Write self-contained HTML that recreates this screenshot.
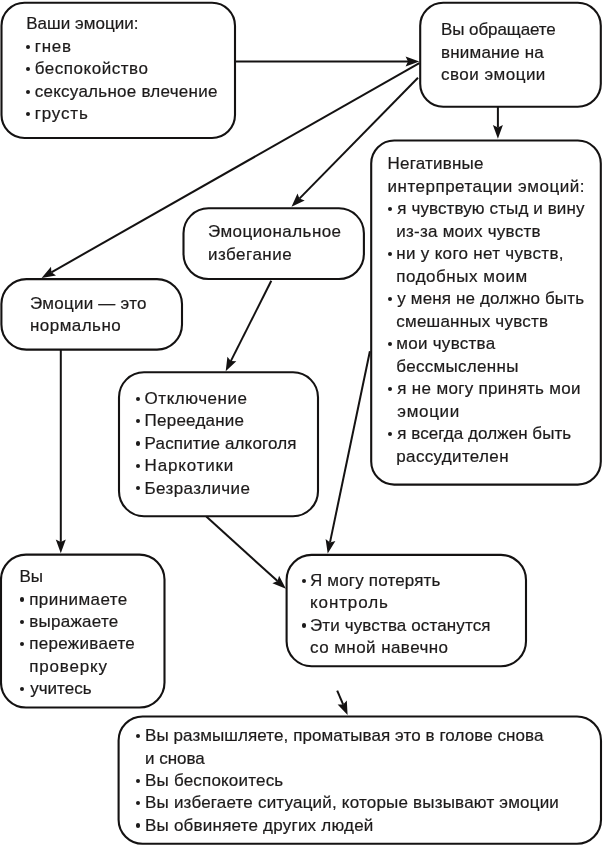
<!DOCTYPE html>
<html><head><meta charset="utf-8"><title>Emotions diagram</title><style>
html,body{margin:0;padding:0;background:#fff}
body{width:603px;height:846px;overflow:hidden;position:relative}
#w{position:absolute;left:0;top:0;width:603px;height:846px;will-change:transform}
.t{position:absolute;white-space:nowrap;font-family:"Liberation Sans",sans-serif;font-size:17.0px;line-height:22.5px;letter-spacing:0.2px;color:#1c1a1a;-webkit-text-stroke:0.2px #1c1a1a}
.d{position:absolute;width:4.2px;height:4.2px;border-radius:50%;background:#1c1a1a}
svg{position:absolute;left:0;top:0}
rect{fill:none;stroke:#141212;stroke-width:2.1}
line{stroke:#141212;stroke-width:2}
polygon{fill:#141212}
</style></head><body>
<div id="w">
<svg width="603" height="846" viewBox="0 0 603 846">
<rect x="1.5" y="2.7" width="233.5" height="135.3" rx="23" ry="23"/>
<rect x="420.2" y="2.8" width="180.6" height="104.0" rx="23" ry="23"/>
<rect x="371.2" y="140.5" width="229.6" height="344.1" rx="23" ry="23"/>
<rect x="183.5" y="208.3" width="180.4" height="70.7" rx="25" ry="25"/>
<rect x="1.4" y="279.1" width="180.6" height="70.5" rx="25" ry="25"/>
<rect x="119.0" y="372.3" width="199.0" height="143.9" rx="25" ry="25"/>
<rect x="1.0" y="554.6" width="163.5" height="152.9" rx="25" ry="25"/>
<rect x="286.6" y="554.9" width="239.4" height="111.3" rx="25" ry="25"/>
<rect x="118.6" y="716.5" width="482.4" height="127.3" rx="24" ry="24"/>
<line x1="235.0" y1="61.6" x2="408.0" y2="61.6"/>
<polygon points="419.3,61.6 405.6,66.6 408.0,61.6 405.6,56.6"/>
<line x1="497.9" y1="106.8" x2="497.9" y2="127.5"/>
<polygon points="497.9,138.8 492.9,125.1 497.9,127.5 502.9,125.1"/>
<line x1="419.3" y1="63.2" x2="51.4" y2="272.3"/>
<polygon points="41.6,277.9 51.0,266.8 51.4,272.3 56.0,275.5"/>
<line x1="418.0" y1="77.8" x2="299.4" y2="198.6"/>
<polygon points="291.5,206.7 297.5,193.4 299.4,198.6 304.7,200.4"/>
<line x1="271.3" y1="280.8" x2="230.8" y2="361.1"/>
<polygon points="225.7,371.2 227.4,356.7 230.8,361.1 236.3,361.2"/>
<line x1="60.8" y1="349.6" x2="60.8" y2="541.9"/>
<polygon points="60.8,553.2 55.8,539.5 60.8,541.9 65.8,539.5"/>
<line x1="206.3" y1="516.5" x2="277.5" y2="581.1"/>
<polygon points="285.9,588.7 272.4,583.2 277.5,581.1 279.1,575.8"/>
<line x1="369.9" y1="351.3" x2="330.0" y2="542.4"/>
<polygon points="327.7,553.5 325.6,539.1 330.0,542.4 335.4,541.1"/>
<line x1="337.2" y1="690.6" x2="343.2" y2="704.6"/>
<polygon points="347.6,715.0 337.6,704.4 343.2,704.6 346.8,700.4"/>
</svg>
<div class="t" style="left:26.20px;top:13px;letter-spacing:0.03px">Ваши эмоции:</div>
<div class="t" style="left:34.70px;top:36px;letter-spacing:0.74px">гнев</div>
<div class="d" style="left:25.90px;top:44.80px"></div>
<div class="t" style="left:34.70px;top:58px;letter-spacing:0.54px">беспокойство</div>
<div class="d" style="left:25.90px;top:67.30px"></div>
<div class="t" style="left:34.70px;top:81px;letter-spacing:0.26px">сексуальное влечение</div>
<div class="d" style="left:25.90px;top:89.80px"></div>
<div class="t" style="left:34.70px;top:103px;letter-spacing:0.85px">грусть</div>
<div class="d" style="left:25.90px;top:112.30px"></div>
<div class="t" style="left:441.10px;top:19px;letter-spacing:-0.10px">Вы обращаете</div>
<div class="t" style="left:441.10px;top:42px;letter-spacing:0.17px">внимание на</div>
<div class="t" style="left:441.10px;top:64px;letter-spacing:0.47px">свои эмоции</div>
<div class="t" style="left:387.50px;top:153px;letter-spacing:0.21px">Негативные</div>
<div class="t" style="left:387.50px;top:176px;letter-spacing:0.51px">интерпретации эмоций:</div>
<div class="t" style="left:397.30px;top:198px;letter-spacing:0.11px">я чувствую стыд и вину</div>
<div class="d" style="left:387.90px;top:207.20px"></div>
<div class="t" style="left:396.30px;top:221px;letter-spacing:0.24px">из-за моих чувств</div>
<div class="t" style="left:396.30px;top:243px;letter-spacing:0.31px">ни у кого нет чувств,</div>
<div class="d" style="left:387.90px;top:252.20px"></div>
<div class="t" style="left:396.30px;top:266px;letter-spacing:0.53px">подобных моим</div>
<div class="t" style="left:397.30px;top:288px;letter-spacing:0.15px">у меня не должно быть</div>
<div class="d" style="left:387.90px;top:297.20px"></div>
<div class="t" style="left:396.30px;top:311px;letter-spacing:0.21px">смешанных чувств</div>
<div class="t" style="left:396.30px;top:333px;letter-spacing:0.27px">мои чувства</div>
<div class="d" style="left:387.90px;top:342.20px"></div>
<div class="t" style="left:396.30px;top:356px;letter-spacing:0.30px">бессмысленны</div>
<div class="t" style="left:397.30px;top:378px;letter-spacing:0.32px">я не могу принять мои</div>
<div class="d" style="left:387.90px;top:387.20px"></div>
<div class="t" style="left:397.30px;top:401px;letter-spacing:0.69px">эмоции</div>
<div class="t" style="left:397.30px;top:423px;letter-spacing:0.06px">я всегда должен быть</div>
<div class="d" style="left:387.90px;top:432.20px"></div>
<div class="t" style="left:396.30px;top:446px;letter-spacing:0.34px">рассудителен</div>
<div class="t" style="left:208.00px;top:221px;letter-spacing:0.44px">Эмоциональное</div>
<div class="t" style="left:208.00px;top:244px;letter-spacing:0.49px">избегание</div>
<div class="t" style="left:30.00px;top:293px;letter-spacing:0.25px">Эмоции — это</div>
<div class="t" style="left:30.00px;top:315px;letter-spacing:0.46px">нормально</div>
<div class="t" style="left:144.60px;top:388px;letter-spacing:0.54px">Отключение</div>
<div class="d" style="left:136.00px;top:396.50px"></div>
<div class="t" style="left:144.60px;top:410px;letter-spacing:0.23px">Переедание</div>
<div class="d" style="left:136.00px;top:418.95px"></div>
<div class="t" style="left:144.60px;top:433px;letter-spacing:0.16px">Распитие алкоголя</div>
<div class="d" style="left:136.00px;top:441.40px"></div>
<div class="t" style="left:144.60px;top:455px;letter-spacing:0.83px">Наркотики</div>
<div class="d" style="left:136.00px;top:463.85px"></div>
<div class="t" style="left:144.60px;top:478px;letter-spacing:0.37px">Безразличие</div>
<div class="d" style="left:136.00px;top:486.30px"></div>
<div class="t" style="left:19.60px;top:566px;letter-spacing:-0.20px">Вы</div>
<div class="t" style="left:29.20px;top:589px;letter-spacing:0.43px">принимаете</div>
<div class="d" style="left:19.70px;top:597.45px"></div>
<div class="t" style="left:29.20px;top:611px;letter-spacing:0.26px">выражаете</div>
<div class="d" style="left:19.70px;top:619.80px"></div>
<div class="t" style="left:29.20px;top:633px;letter-spacing:0.31px">переживаете</div>
<div class="d" style="left:19.70px;top:642.15px"></div>
<div class="t" style="left:29.20px;top:656px;letter-spacing:0.84px">проверку</div>
<div class="t" style="left:30.20px;top:678px;letter-spacing:0.01px">учитесь</div>
<div class="d" style="left:19.70px;top:686.85px"></div>
<div class="t" style="left:310.00px;top:570px;letter-spacing:0.17px">Я могу потерять</div>
<div class="d" style="left:301.90px;top:578.50px"></div>
<div class="t" style="left:310.00px;top:592px;letter-spacing:0.90px">контроль</div>
<div class="t" style="left:310.00px;top:615px;letter-spacing:0.13px">Эти чувства останутся</div>
<div class="d" style="left:301.90px;top:623.40px"></div>
<div class="t" style="left:310.00px;top:637px;letter-spacing:0.44px">со мной навечно</div>
<div class="t" style="left:145.00px;top:725px;letter-spacing:0.08px">Вы размышляете, проматывая это в голове снова</div>
<div class="d" style="left:135.70px;top:734.00px"></div>
<div class="t" style="left:145.00px;top:748px;letter-spacing:-0.02px">и снова</div>
<div class="t" style="left:145.00px;top:770px;letter-spacing:0.20px">Вы беспокоитесь</div>
<div class="d" style="left:135.70px;top:778.66px"></div>
<div class="t" style="left:145.00px;top:792px;letter-spacing:0.20px">Вы избегаете ситуаций, которые вызывают эмоции</div>
<div class="d" style="left:135.70px;top:800.99px"></div>
<div class="t" style="left:145.00px;top:815px;letter-spacing:0.22px">Вы обвиняете других людей</div>
<div class="d" style="left:135.70px;top:823.32px"></div>
</div>
</body></html>
